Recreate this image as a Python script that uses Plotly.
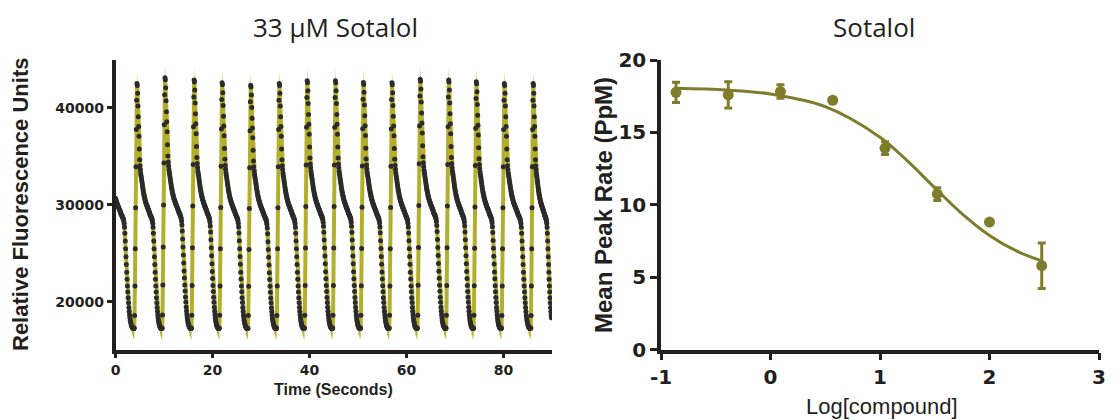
import numpy as np
import plotly.graph_objects as go

# ---------------- Left panel: fluorescence trace ----------------
# Peak times (s) and peak heights (RFU) of each transient
peak_times = [4.43, 10.18, 16.22, 21.97, 27.87, 33.77, 39.52, 45.35,
              51.10, 57.00, 62.82, 68.72, 74.40, 80.15, 86.20]
peak_heights = [42480, 43070, 42830, 42550, 42310, 42480, 42760, 42760,
                42590, 42550, 42930, 42830, 42650, 42480, 42480]
lead_onset = -2.3         # onset of the cycle already running at t = 0
trace_end = 90.6          # end of the last (shortened) cycle
record_end = 89.9         # last recorded sample

# One cycle of the mean trace (RFU), from upstroke onset to next onset
cycle_shape = [
    17300, 18600, 21600, 25400, 29600, 33800, 37600, 40600, 42300, 42100,
    41300, 40000, 38900, 37900, 36900, 35600, 34500, 33900, 33500, 33150,
    32900, 32700, 32450, 32200, 31950, 31700, 31450, 31250, 31060, 30880,
    30720, 30570, 30430, 30300, 30180, 30070, 29970, 29870, 29770, 29670,
    29580, 29490, 29400, 29310, 29230, 29150, 29000, 28920, 28840, 28760,
    28680, 28600, 28500, 28400, 28250, 28000, 27600, 27000, 26200, 25400,
    24600, 23800, 23000, 22300, 21600, 21000, 20400, 19900, 19400, 19000,
    18650, 18350, 18100, 17900, 17750, 17600, 17500, 17400, 17350, 17300,
    17250, 17250, 17250]
# Spread (SD, RFU) along the same cycle
cycle_sd = [
    1300, 600, 400, 400, 400, 400, 450, 700, 1300, 800,
    500, 350, 300, 300, 300, 300, 300, 300, 300, 300,
    300, 300, 300, 300, 300, 300, 300, 300, 300, 300,
    300, 300, 300, 300, 300, 300, 300, 300, 300, 300,
    300, 300, 300, 300, 300, 300, 300, 300, 300, 300,
    300, 300, 300, 300, 300, 350, 350, 350, 350, 350,
    350, 350, 350, 350, 350, 350, 350, 350, 350, 350,
    350, 350, 350, 500, 500, 500, 600, 700, 900, 700,
    1200, 800, 1000]
peak_index = 8
upstroke_lead = 0.56      # s from onset to peak

# ---------------- Right panel: concentration response ----------------
log_conc = [-0.863, -0.386, 0.091, 0.568, 1.046, 1.523, 2.000, 2.477]
peak_rate = [17.77, 17.59, 17.82, 17.22, 13.91, 10.74, 8.80, 5.79]
peak_rate_err = [0.70, 0.90, 0.47, 0.0, 0.44, 0.44, 0.0, 1.57]
fit_x = [-0.87, -0.4, 0.0, 0.5, 1.0, 1.25, 1.5, 1.75, 2.0, 2.25, 2.47]
fit_y = [18.04, 17.92, 17.65, 16.78, 14.67, 13.03, 11.17, 9.37, 7.88, 6.79, 6.14]

left_yticks = [20000, 30000, 40000]
left_xticks = [0, 20, 40, 60, 80]
right_yticks = [0, 5, 10, 15, 20]
right_xticks = [-1, 0, 1, 2, 3]

# ---- assemble the trace cycle by cycle ----
shape = np.array(cycle_shape, dtype=float)
sd = np.array(cycle_sd, dtype=float)
base = shape[-1]
n = len(shape)
onsets = [lead_onset] + [t - upstroke_lead for t in peak_times] + [trace_end]
heights = [peak_heights[0]] + peak_heights

t_all, v_all, s_all = [], [], []
for k in range(len(onsets) - 1):
    period = onsets[k + 1] - onsets[k]
    t = onsets[k] + np.arange(n) * period / n
    scale = (heights[k] - base) / (shape[peak_index] - base)
    v = base + (shape - base) * scale
    keep = (t >= 0) & (t <= record_end)
    t_all.append(t[keep]); v_all.append(v[keep]); s_all.append(sd[keep])
t_all = np.concatenate(t_all)
v_all = np.concatenate(v_all)
s_all = np.concatenate(s_all)

band_col = "#bab635"
line_col = "#b3af2d"
dot_col = "#2b2b2b"
olive = "#7f7d2c"
axis_col = "#231f20"

fig = go.Figure()
fig.add_trace(go.Scatter(
    x=np.concatenate([t_all, t_all[::-1]]),
    y=np.concatenate([v_all + s_all, (v_all - s_all)[::-1]]),
    fill="toself", fillcolor=band_col, line=dict(width=0),
    mode="lines", hoverinfo="skip", showlegend=False,
    xaxis="x", yaxis="y"))
fig.add_trace(go.Scatter(
    x=t_all, y=v_all, mode="lines", line=dict(color=line_col, width=4),
    showlegend=False, xaxis="x", yaxis="y"))
fig.add_trace(go.Scatter(
    x=t_all, y=v_all, mode="markers",
    marker=dict(color=dot_col, size=5, line=dict(width=0)),
    showlegend=False, xaxis="x", yaxis="y"))

fig.add_trace(go.Scatter(
    x=fit_x, y=fit_y, mode="lines", line=dict(color=olive, width=3, shape="spline"),
    showlegend=False, xaxis="x2", yaxis="y2"))
fig.add_trace(go.Scatter(
    x=log_conc, y=peak_rate, mode="markers",
    marker=dict(color=olive, size=11),
    error_y=dict(type="data", array=peak_rate_err, color=olive, thickness=3, width=4),
    showlegend=False, xaxis="x2", yaxis="y2"))

W, H = 1118, 420
def px(x):
    return x / W
def py(y):
    return (H - y) / H

axis_common = dict(showline=True, linecolor=axis_col, linewidth=3.5, ticks="outside",
                   tickcolor=axis_col, tickwidth=3, showgrid=False, zeroline=False,
                   automargin=False)
bold = dict(family="Liberation Sans, Arial, sans-serif", color="#231f20", weight="bold")
tick_bold = dict(family="DejaVu Sans, sans-serif", color="#231f20", weight="bold")

fig.update_layout(
    width=W, height=H, autosize=False,
    margin=dict(l=0, r=0, t=0, b=0),
    plot_bgcolor="white", paper_bgcolor="white",
    xaxis=dict(domain=[px(115.5), px(552)], range=[0, 90], anchor="y",
               tickvals=left_xticks, ticktext=[str(v) for v in left_xticks],
               ticklen=5, tickfont=dict(size=14, **tick_bold), **axis_common),
    yaxis=dict(domain=[py(349.5), py(60)], range=[15100, 44900], anchor="x",
               tickvals=left_yticks, ticktext=[str(v) for v in left_yticks],
               ticklen=5, tickfont=dict(size=14, **tick_bold), **axis_common),
    xaxis2=dict(domain=[px(661), px(1099)], range=[-1, 3], anchor="y2",
                tickvals=right_xticks, ticktext=[str(v) for v in right_xticks],
                ticklen=7, tickfont=dict(size=20, **tick_bold), **axis_common),
    yaxis2=dict(domain=[py(349.5), py(60)], range=[0, 20], anchor="x2",
                tickvals=right_yticks, ticktext=[str(v) for v in right_yticks],
                ticklen=7, tickfont=dict(size=20, **tick_bold), **axis_common),
)

title_font = dict(family="Open Sans, Noto Sans, sans-serif", size=26, color="#231f20")
fig.add_annotation(x=px(335), y=py(27), xref="paper", yref="paper", text="33 µM Sotalol",
                   showarrow=False, font=title_font, xanchor="center", yanchor="middle")
fig.add_annotation(x=px(874), y=py(27), xref="paper", yref="paper", text="Sotalol",
                   showarrow=False, font=title_font, xanchor="center", yanchor="middle")
fig.add_annotation(x=px(20), y=py(205), xref="paper", yref="paper",
                   text="Relative Fluorescence Units", textangle=-90, showarrow=False,
                   font=dict(size=22, **bold), xanchor="center", yanchor="middle")
fig.add_annotation(x=px(333), y=py(389), xref="paper", yref="paper",
                   text="Time (Seconds)", showarrow=False,
                   font=dict(size=16, **bold), xanchor="center", yanchor="middle")
fig.add_annotation(x=px(603), y=py(205), xref="paper", yref="paper",
                   text="Mean Peak Rate (PpM)", textangle=-90, showarrow=False,
                   font=dict(size=24, **bold), xanchor="center", yanchor="middle")
fig.add_annotation(x=px(882), y=py(406), xref="paper", yref="paper",
                   text="Log[compound]", showarrow=False,
                   font=dict(family="Liberation Sans, Arial, sans-serif", size=22,
                             color="#231f20"),
                   xanchor="center", yanchor="middle")

fig.write_html("out.html")
